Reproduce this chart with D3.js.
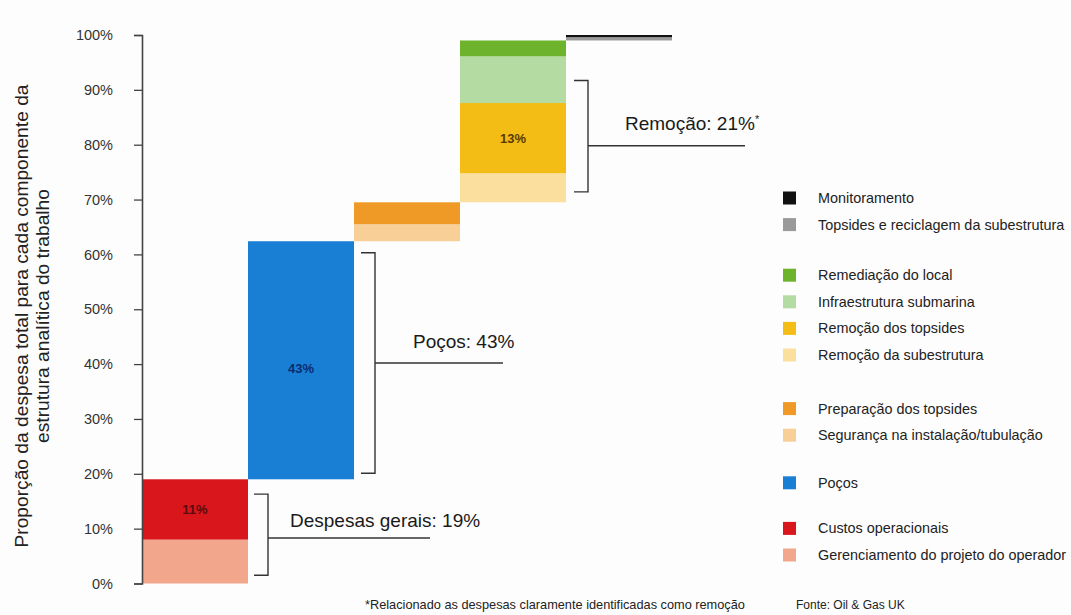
<!DOCTYPE html>
<html>
<head>
<meta charset="utf-8">
<script src="https://cdn.jsdelivr.net/npm/d3@7"></script>
<style>
  html, body { margin: 0; padding: 0; background: #fdfdfd; }
  svg { display: block; font-family: "Liberation Sans", Arial, Helvetica, sans-serif; }
</style>
</head>
<body>
<svg id="chart" width="1071" height="615"></svg>
<script>
// ---------- DATA ----------
const categories = ["Despesas gerais", "Poços", "Preparação", "Remoção", "Reciclagem e monitoramento"];

const componentNames = [
  "Gerenciamento do projeto do operador",
  "Custos operacionais",
  "Poços",
  "Segurança na instalação/tubulação",
  "Preparação dos topsides",
  "Remoção da subestrutura",
  "Remoção dos topsides",
  "Infraestrutura submarina",
  "Remediação do local",
  "Topsides e reciclagem da subestrutura",
  "Monitoramento"
];
const componentValues = [8, 11, 43.4, 3.1, 4.0, 5.3, 12.8, 8.5, 2.9, 0.6, 0.4];
const componentCategory = [0, 0, 1, 2, 2, 3, 3, 3, 3, 4, 4];
const componentColors = [
  "#f2a68b", "#d8161c", "#187fd5", "#f8cf96", "#ef9a26",
  "#fbdf9f", "#f4bd16", "#b4dba2", "#6db42c", "#9a9a9a", "#111111"
];

const barLabelText = ["11%", "43%", "13%"];
const barLabelComponent = [1, 2, 6];
const barLabelColors = ["#5a0c0c", "#0b2c70", "#5a3a00"];

const yTicks = [0, 10, 20, 30, 40, 50, 60, 70, 80, 90, 100];

const groupLabels = ["Despesas gerais: 19%", "Poços: 43%", "Remoção: 21%"];
const groupCategory = [0, 1, 3];
const bracketLow = [1.5, 20.1, 71.4];
const bracketHigh = [16.3, 60.3, 91.7];
const bracketMid = [8.3, 40.2, 79.8];

const legendGroups = [[10, 9], [8, 7, 6, 5], [4, 3], [2], [1, 0]];

const yTitle = ["Proporção da despesa total para cada componente da", "estrutura analítica do trabalho"];
const footnote = "*Relacionado as despesas claramente identificadas como remoção";
const source = "Fonte: Oil & Gas UK";

// ---------- LAYOUT ----------
const svg = d3.select("#chart");
const x = d3.scaleBand().domain(categories).range([142, 672]).padding(0);
const y = d3.scaleLinear().domain([0, 100]).range([583.5, 35]);

// cumulative stacking (waterfall)
let acc = 0;
const segs = componentValues.map((v, i) => {
  const s = { i, y0: acc, y1: acc + v, cat: categories[componentCategory[i]] };
  acc += v;
  return s;
});

// bars
svg.append("g").selectAll("rect").data(segs).join("rect")
  .attr("x", d => x(d.cat))
  .attr("width", x.bandwidth())
  .attr("y", d => y(d.y1))
  .attr("height", d => y(d.y0) - y(d.y1))
  .attr("fill", d => componentColors[d.i]);

// bar labels
svg.append("g").selectAll("text").data(barLabelText).join("text")
  .attr("x", (d, k) => x(segs[barLabelComponent[k]].cat) + x.bandwidth() / 2)
  .attr("y", (d, k) => {
    const s = segs[barLabelComponent[k]];
    return y((s.y0 + s.y1) / 2) + (k === 1 ? 8 : 0);
  })
  .attr("dy", "0.35em")
  .attr("text-anchor", "middle")
  .attr("font-size", 13)
  .attr("font-weight", "bold")
  .attr("fill", (d, k) => barLabelColors[k])
  .text(d => d);

// y axis
const yAxis = d3.axisLeft(y).tickValues(yTicks).tickFormat(d => d + "%").tickSize(8).tickPadding(21);
const gA = svg.append("g").attr("transform", "translate(142,0)").call(yAxis);
gA.select(".domain").attr("stroke", "#444").attr("stroke-width", 1.6);
gA.selectAll(".tick line").attr("stroke", "#444").attr("stroke-width", 1.3);
gA.selectAll(".tick text").attr("font-size", 14.5).attr("fill", "#333")
  .attr("font-family", "'Liberation Sans', Arial, sans-serif");

// y title
const yt = svg.append("text")
  .attr("transform", "translate(0,316) rotate(-90)")
  .attr("text-anchor", "middle")
  .attr("font-size", 19.2)
  .attr("fill", "#222");
yt.selectAll("tspan").data(yTitle).join("tspan")
  .attr("x", 0)
  .attr("y", (d, i) => 28 + i * 21)
  .text(d => d);

// brackets
const bracketOffset = [20, 21, 22];
const lineLen = [162, 128, 157];
const textDx = [22, 38, 37];
const textDy = [-11, -15, -16];
groupLabels.forEach((lab, k) => {
  const bx = x(categories[groupCategory[k]]) + x.bandwidth() + bracketOffset[k];
  const g = svg.append("g").attr("stroke", "#333").attr("stroke-width", 1.4).attr("fill", "none");
  g.append("path").attr("d",
    `M${bx - 14},${y(bracketHigh[k])}H${bx}V${y(bracketLow[k])}H${bx - 14}`);
  g.append("line").attr("x1", bx).attr("x2", bx + lineLen[k])
    .attr("y1", y(bracketMid[k])).attr("y2", y(bracketMid[k]));
  const t = svg.append("text")
    .attr("x", bx + textDx[k]).attr("y", y(bracketMid[k]) + textDy[k])
    .attr("font-size", 19).attr("fill", "#1a1a1a")
    .text(lab);
  if (k === 2) t.append("tspan").attr("font-size", 11).attr("dy", -7).text("*");
});

// legend
const legendGaps = [0, 24, 27, 21, 19];
let ly = 198;
const lg = svg.append("g");
legendGroups.forEach((grp, gi) => {
  if (gi > 0) ly += legendGaps[gi];
  grp.forEach((ci, j) => {
    if (gi > 0 || j > 0) ly += 26.6;
    if (gi === 0 && j === 0) ly = 198;
    lg.append("rect").attr("x", 783).attr("y", ly - 6.5).attr("width", 13).attr("height", 13)
      .attr("fill", componentColors[ci]);
    lg.append("text").attr("x", 818).attr("y", ly).attr("dy", "0.35em")
      .attr("font-size", 14.4).attr("fill", "#222").text(componentNames[ci]);
  });
});

// footnotes
svg.append("text").attr("x", 365).attr("y", 609).attr("font-size", 12.75).attr("fill", "#222").text(footnote);
svg.append("text").attr("x", 796).attr("y", 609).attr("font-size", 12).attr("fill", "#222").text(source);
</script>
</body>
</html>
